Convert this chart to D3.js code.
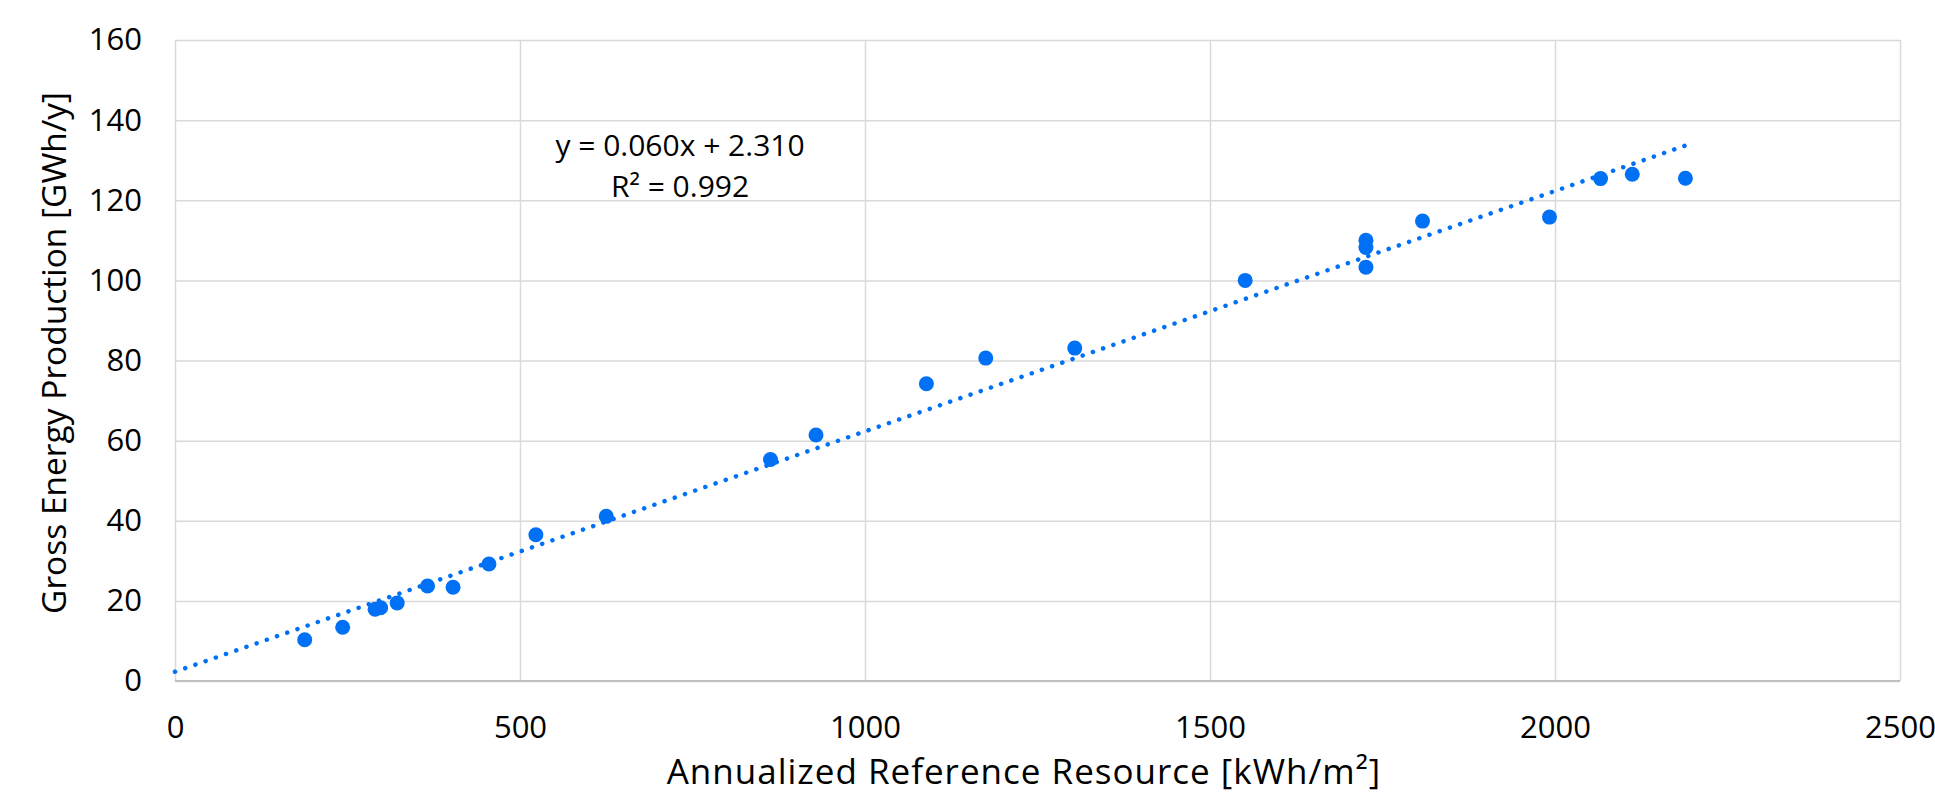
<!DOCTYPE html>
<html>
<head>
<meta charset="utf-8">
<script src="https://cdn.jsdelivr.net/npm/d3@7"></script>
<style>
  html, body { margin: 0; padding: 0; background: #fff; }
  text { font-family: "Open Sans", "Noto Sans", sans-serif; fill: #000; }
</style>
</head>
<body>
<svg id="chart" width="1935" height="797"></svg>
<script>
// Data
const resource = [188, 243, 290, 298, 322, 366, 403, 455, 523, 625, 863, 929, 1089, 1175, 1304, 1551, 1726, 1726, 1726, 1808, 1992, 2066, 2112, 2189];
const production = [10.3, 13.4, 17.9, 18.3, 19.5, 23.7, 23.4, 29.2, 36.5, 41.1, 55.3, 61.4, 74.2, 80.6, 83.1, 100.0, 110.0, 108.2, 103.3, 114.8, 115.8, 125.4, 126.5, 125.5];
const xTicks = [0, 500, 1000, 1500, 2000, 2500];
const yTicks = [0, 20, 40, 60, 80, 100, 120, 140, 160];
const trendSlope = 0.060;
const trendIntercept = 2.310;
const equationLines = ["y = 0.060x + 2.310", "R² = 0.992"];
const xTitle = "Annualized Reference Resource [kWh/m²]";
const yTitle = "Gross Energy Production [GWh/y]";

const svg = d3.select("#chart");
const m = { left: 175, right: 1900, top: 40, bottom: 681 };
const x = d3.scaleLinear().domain([0, 2500]).range([m.left, m.right]);
const y = d3.scaleLinear().domain([0, 160]).range([m.bottom, m.top]);
const blue = "#0070F5";
const fs = 31;

// gridlines
const gx = svg.append("g").attr("transform", `translate(0,${m.bottom})`)
  .call(d3.axisBottom(x).tickValues(xTicks).tickSize(-(m.bottom - m.top)).tickFormat(""));
gx.select(".domain").remove();
gx.selectAll("line").attr("stroke", "#d9d9d9").attr("stroke-width", 1.5);

const gy = svg.append("g").attr("transform", `translate(${m.left},0)`)
  .call(d3.axisLeft(y).tickValues(yTicks).tickSize(-(m.right - m.left)).tickFormat(""));
gy.select(".domain").remove();
gy.selectAll("line").attr("stroke", "#d9d9d9").attr("stroke-width", 1.5);

// bottom axis line
svg.append("line").attr("x1", m.left).attr("x2", m.right)
  .attr("y1", y(0)).attr("y2", y(0)).attr("stroke", "#bfbfbf").attr("stroke-width", 2);

// tick labels
const xl = svg.append("g").attr("transform", `translate(0,${m.bottom + 35})`)
  .call(d3.axisBottom(x).tickValues(xTicks).tickSize(0).tickPadding(0).tickFormat(d3.format("d")));
xl.select(".domain").remove();
xl.selectAll("text").style("font-size", fs + "px").attr("dy", "0.71em");

const yl = svg.append("g").attr("transform", `translate(${m.left - 33},0)`)
  .call(d3.axisLeft(y).tickValues(yTicks).tickSize(0).tickPadding(0).tickFormat(d3.format("d")));
yl.select(".domain").remove();
yl.selectAll("text").style("font-size", fs + "px");

// trendline
const xMax = d3.max(resource);
svg.append("line")
  .attr("x1", x(0)).attr("y1", y(trendIntercept))
  .attr("x2", x(xMax)).attr("y2", y(trendSlope * xMax + trendIntercept))
  .attr("stroke", blue).attr("stroke-width", 4.5)
  .attr("stroke-linecap", "round").attr("stroke-dasharray", "0.1 10.7");

// points
svg.append("g").selectAll("circle")
  .data(resource.map((r, i) => [r, production[i]]))
  .join("circle")
  .attr("cx", d => x(d[0])).attr("cy", d => y(d[1]))
  .attr("r", 7.5).attr("fill", blue);

// equation
const eq = svg.append("text").attr("text-anchor", "middle").style("font-size", "30px");
eq.selectAll("tspan").data(equationLines).join("tspan")
  .attr("x", 680).attr("y", (d, i) => 156 + i * 41).text(d => d);

// axis titles
svg.append("text").attr("x", 1024).attr("y", 784)
  .attr("text-anchor", "middle").style("font-size", "35px").style("letter-spacing", "1px").text(xTitle);
svg.append("text").attr("transform", `translate(66,353) rotate(-90)`)
  .attr("text-anchor", "middle").style("font-size", "33.5px").text(yTitle);
</script>
</body>
</html>
